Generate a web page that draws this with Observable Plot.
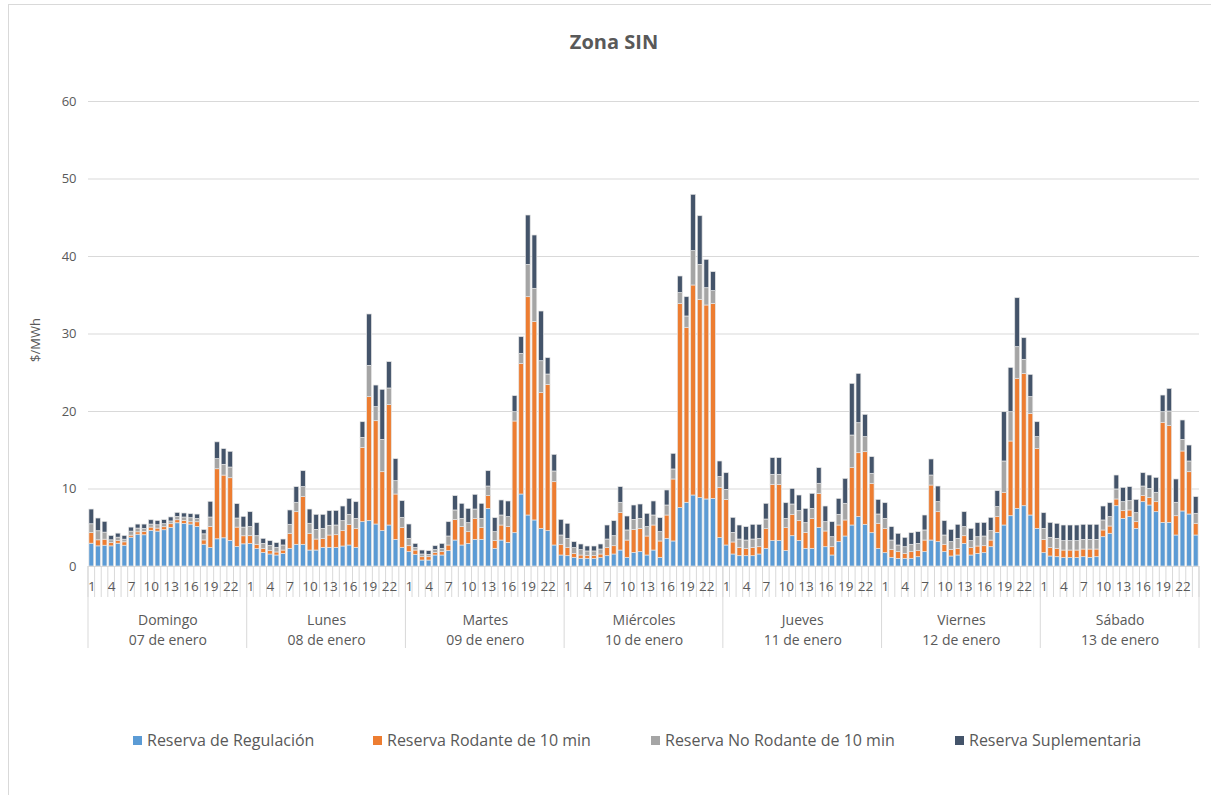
<!DOCTYPE html>
<html>
<head>
<meta charset="utf-8">
<script src="https://cdn.jsdelivr.net/npm/d3@7"></script>
<script src="https://cdn.jsdelivr.net/npm/@observablehq/plot@0.6"></script>
<style>
  html, body { margin: 0; padding: 0; background: #fff; }
  body { width: 1211px; height: 795px; position: relative; overflow: hidden; font-family: "Open Sans", sans-serif; }
  #frame { position: absolute; left: 8px; top: 4px; width: 1220px; height: 810px; border: 1px solid #d9d9d9; box-sizing: border-box; }
  #title { position: absolute; left: 0; top: 28px; width: 1228px; text-align: center; font-weight: bold; font-size: 20px; color: #595959; }
  #chart { position: absolute; left: 0; top: 0; }
  #ylabel { position: absolute; left: 35px; top: 340px; transform: translate(-50%, -50%) rotate(-90deg); font-size: 13px; color: #595959; white-space: nowrap; }
  .leg { position: absolute; top: 729px; font-size: 16px; color: #595959; display: flex; align-items: center; white-space: nowrap; }
  .leg span.sw { display: inline-block; width: 9px; height: 9px; margin-right: 5px; }
</style>
</head>
<body>
<div id="frame"></div>
<div id="title">Zona SIN</div>
<div id="chart"></div>
<div id="ylabel">$/MWh</div>
<div id="legend"></div>
<script>
const days = ["Domingo\n07 de enero", "Lunes\n08 de enero", "Martes\n09 de enero", "Miércoles\n10 de enero", "Jueves\n11 de enero", "Viernes\n12 de enero", "Sábado\n13 de enero"];
const hours = d3.range(1, 25);
const hourLabels = [1, 4, 7, 10, 13, 16, 19, 22];
const seriesNames = ["Reserva de Regulación", "Reserva Rodante de 10 min", "Reserva No Rodante de 10 min", "Reserva Suplementaria"];
const seriesColors = ["#5B9BD5", "#ED7D31", "#A5A5A5", "#44546A"];
const yTicks = [0, 10, 20, 30, 40, 50, 60];

const regulacion = [
  2.94,2.60,2.68,2.60,2.94,2.68,3.72,4.11,4.03,4.59,4.50,4.68,4.98,5.58,5.50,5.41,5.11,2.81,2.38,3.51,3.64,3.29,2.51,2.86,
  2.92,2.24,1.76,1.55,1.42,1.63,2.28,2.80,2.80,2.06,2.06,2.41,2.41,2.41,2.58,2.71,2.41,5.72,5.85,5.42,4.56,5.29,3.44,2.41,
  1.85,1.51,0.77,0.77,1.42,1.42,1.98,3.35,2.71,2.92,3.44,3.44,7.44,2.28,3.35,3.05,4.30,9.29,6.58,5.94,4.86,4.56,2.71,1.42,
  1.33,1.12,0.99,0.99,0.99,1.08,1.33,1.55,2.06,1.12,1.76,1.85,1.42,2.06,1.12,3.57,3.23,7.53,8.22,9.16,8.82,8.65,8.73,3.66,
  2.71,1.55,1.33,1.33,1.33,1.55,2.28,3.27,3.27,1.98,3.91,3.27,2.28,2.28,4.99,2.49,1.42,3.14,3.87,5.29,6.37,5.38,4.30,2.28,
  1.72,1.12,0.99,0.99,0.99,1.20,1.85,3.35,3.14,1.85,1.29,1.42,2.92,1.42,1.63,1.72,2.49,4.34,5.29,6.49,7.44,7.78,6.58,4.86,
  1.72,1.29,1.20,1.08,1.08,1.08,1.20,1.12,1.20,3.78,4.22,7.78,6.15,6.37,4.86,8.30,7.87,7.01,5.63,5.63,4.00,7.10,6.71,4.00
];
const rodante = [
  1.39,0.78,0.78,0.43,0.35,0.44,0.26,0.30,0.43,0.43,0.39,0.39,0.48,0.39,0.39,0.30,0.60,0.56,2.73,9.04,8.09,8.10,2.51,1.04,
  0.99,0.56,0.48,0.43,0.39,0.43,1.94,4.21,6.15,2.16,1.42,1.16,1.59,1.63,1.98,2.67,2.45,9.59,16.00,13.33,7.61,15.53,5.85,2.58,
  0.77,0.55,0.43,0.43,0.34,0.43,0.73,2.67,2.37,1.51,2.71,1.55,1.64,0.99,1.94,2.03,14.41,16.86,28.17,25.59,17.51,18.88,8.17,1.38,
  1.04,0.51,0.43,0.35,0.35,0.47,1.04,1.07,4.86,2.23,2.97,3.01,2.45,3.23,2.11,3.01,8.00,26.36,22.58,27.10,25.59,25.03,25.16,6.49,
  5.89,1.55,1.08,0.95,1.08,0.94,2.54,7.27,7.27,2.97,2.76,2.58,2.06,3.87,4.39,2.03,1.07,2.15,2.07,7.40,8.25,9.37,6.37,3.23,
  3.14,1.03,0.86,0.64,0.86,0.78,1.50,7.10,3.87,0.95,0.86,0.86,0.99,0.95,0.95,0.90,0.86,2.03,4.22,9.64,16.78,17.08,13.12,10.32,
  1.72,1.08,1.08,0.98,0.98,0.98,0.99,1.07,0.99,0.87,0.94,0.87,0.99,0.86,0.86,0.78,0.95,1.29,12.91,12.48,2.49,7.74,5.46,1.51
];
const noRodante = [
  1.12,1.17,0.91,0.35,0.43,0.34,0.52,0.48,0.39,0.39,0.43,0.39,0.35,0.43,0.43,0.52,0.43,0.78,1.21,1.30,1.39,1.38,1.17,1.12,
  1.17,1.11,0.68,0.69,0.60,0.65,1.16,1.21,1.29,1.29,1.25,1.29,1.25,1.25,1.29,1.29,1.29,1.29,4.04,1.81,4.17,2.15,1.72,1.29,
  0.95,0.35,0.35,0.30,0.39,0.43,1.16,1.21,1.07,1.16,1.20,1.16,1.24,1.16,1.29,1.29,1.20,1.29,4.17,4.30,4.12,1.33,1.38,1.20,
  1.20,0.74,0.69,0.60,0.60,0.64,1.11,1.29,1.30,1.30,1.29,1.29,1.21,1.29,1.20,1.29,1.29,1.38,1.46,4.43,4.51,2.23,1.64,1.38,
  1.29,1.24,1.07,1.07,1.07,1.08,1.24,1.29,1.29,1.20,1.33,1.29,1.25,1.29,1.29,1.20,1.29,1.38,2.15,4.21,3.87,1.94,1.29,1.20,
  1.29,1.20,0.86,0.86,0.95,0.94,1.30,1.29,1.29,1.20,0.99,1.29,1.17,0.90,1.20,1.25,1.21,1.29,4.04,3.78,4.08,1.81,2.15,1.51,
  1.42,1.33,1.29,1.21,1.21,1.21,1.25,1.25,1.25,1.29,1.21,1.29,1.16,1.20,1.16,1.24,1.20,1.21,1.37,1.89,1.73,1.50,1.38,1.29
];
const suplementaria = [
  1.90,1.64,1.39,0.56,0.52,0.48,0.52,0.52,0.56,0.56,0.56,0.52,0.52,0.52,0.52,0.52,0.56,0.56,2.03,2.17,2.03,2.03,1.86,1.39,
  1.93,1.68,0.65,0.60,0.60,0.77,1.85,2.02,2.06,1.84,1.94,1.81,1.89,1.89,1.89,2.06,2.15,2.02,6.63,2.79,6.46,3.40,2.84,2.15,
  1.85,0.51,0.51,0.48,0.47,0.64,1.85,1.85,1.94,1.85,1.90,1.94,1.98,1.81,1.94,2.02,2.07,2.15,6.37,6.88,6.41,2.11,2.15,2.02,
  1.94,0.77,0.73,0.64,0.64,0.65,1.81,1.94,2.02,1.80,1.85,1.85,1.72,1.81,1.81,1.94,2.02,2.15,2.49,7.27,6.28,3.66,2.45,2.02,
  2.15,1.94,1.81,1.73,1.90,1.81,2.03,2.15,2.15,2.02,2.02,2.02,1.85,1.94,2.02,2.02,1.94,2.06,3.22,6.67,6.37,2.88,2.15,1.89,
  2.02,1.73,1.51,1.21,1.50,1.51,1.93,2.07,2.02,1.85,1.59,1.81,1.93,1.59,1.81,1.76,1.72,2.06,6.36,5.72,6.32,2.79,2.88,1.93,
  2.02,1.93,1.94,2.02,2.02,2.02,1.94,1.94,1.94,1.80,1.80,1.80,1.85,1.81,1.72,1.72,1.72,1.93,2.15,2.92,3.01,2.50,2.06,2.15
];

const seriesValues = [regulacion, rodante, noRodante, suplementaria];
const nSlots = days.length * hours.length;

// long table built from the arrays
const rows = [];
for (let i = 0; i < nSlots; i++) {
  seriesNames.forEach((s, k) => rows.push({i, series: s, value: seriesValues[k][i]}));
}
const slotBounds = d3.range(nSlots + 1);
const hourSlots = d3.range(nSlots).filter(i => hourLabels.includes(hours[i % 24]));
const dayBounds = d3.range(days.length + 1).map(d => d * hours.length);
const dayCenters = d3.range(days.length).map(d => d * hours.length + hours.length / 2);

function tickLines(len) {
  return (index, scales, values, dims) => {
    const g = d3.create("svg:g");
    const yb = dims.height - dims.marginBottom;
    for (const j of index) {
      g.append("line").attr("x1", values.x[j]).attr("x2", values.x[j])
        .attr("y1", yb).attr("y2", yb + len).attr("stroke", "#d9d9d9");
    }
    return g.node();
  };
}

const W = 1211, H = 700;
const chart = Plot.plot({
  width: W, height: H,
  marginTop: 101, marginBottom: H - 566, marginLeft: 88, marginRight: 12,
  style: {fontFamily: "Open Sans, sans-serif", fontSize: "13px", color: "#595959", background: "transparent", overflow: "visible"},
  x: {type: "linear", domain: [0, nSlots], axis: null},
  y: {domain: [0, 60], axis: null},
  color: {domain: seriesNames, range: seriesColors},
  marks: [
    Plot.ruleY(yTicks, {stroke: "#d9d9d9", strokeWidth: 1}),
    Plot.text(yTicks, {y: d => d, frameAnchor: "left", dx: -12, textAnchor: "end", text: d => String(d), fill: "#595959", fontSize: 13}),
    Plot.rectY(rows, {x1: "i", x2: d => d.i + 1, y: "value", fill: "series", order: seriesNames, insetLeft: 0.9, insetRight: 0.9, stroke: "#e4e4e4", strokeWidth: 0.7}),
    Plot.tickX(slotBounds, {x: d => d, render: tickLines(31)}),
    Plot.tickX(dayBounds, {x: d => d, render: tickLines(82)}),
    Plot.text(hourSlots, {x: d => d + 0.5, frameAnchor: "bottom", lineAnchor: "top", dy: 15, text: d => String(hours[d % 24]), fill: "#595959", fontSize: 13.5}),
    Plot.text(dayCenters, {x: d => d, frameAnchor: "bottom", lineAnchor: "top", dy: 45, lineHeight: 1.38, text: d => days[Math.floor(d / hours.length)], fill: "#595959", fontSize: 14}),
    Plot.ruleY([0], {stroke: "#d9d9d9", strokeWidth: 1})
  ]
});
document.getElementById("chart").appendChild(chart);

// legend
const legendX = [133, 373, 651, 955];
const legend = document.getElementById("legend");
seriesNames.forEach((s, k) => {
  const item = document.createElement("div");
  item.className = "leg";
  item.style.left = legendX[k] + "px";
  item.innerHTML = `<span class="sw" style="background:${seriesColors[k]}"></span>${s}`;
  legend.appendChild(item);
});
</script>
</body>
</html>
